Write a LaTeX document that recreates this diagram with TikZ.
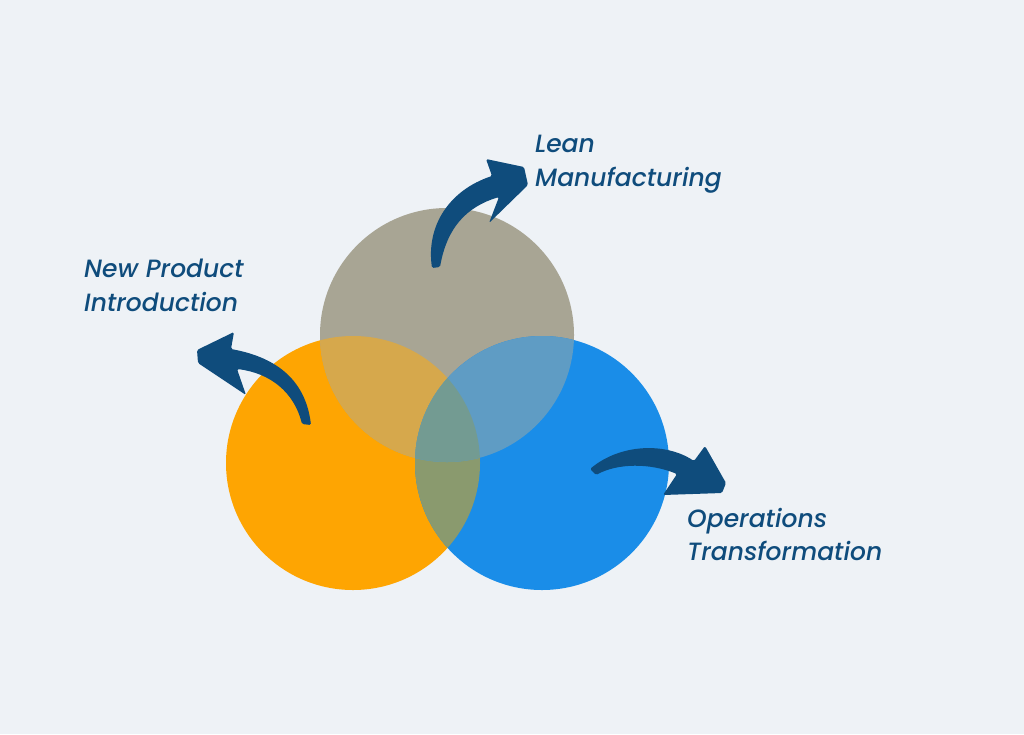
\documentclass[tikz,border=0pt]{standalone}
\usepackage{fontspec}
\setmainfont{Poppins}[UprightFont={* Medium}, ItalicFont={* Medium Italic}]
\definecolor{bgc}{HTML}{EEF2F6}
\definecolor{orng}{HTML}{FEA502}
\definecolor{gry}{HTML}{A8A594}
\definecolor{blu}{HTML}{1A8DE8}
\definecolor{og}{HTML}{D6A84C}
\definecolor{gb}{HTML}{5F9CC4}
\definecolor{ob}{HTML}{8A9A6E}
\definecolor{ogb}{HTML}{739B92}
\definecolor{navy}{HTML}{0F4C7C}
\tikzset{
  lab/.style={anchor=base west, inner sep=0pt, text=navy, font=\fontsize{25}{30}\selectfont\itshape},
  arrowshape/.style={fill=navy, rounded corners=1.5pt},
}
\begin{document}
\begin{tikzpicture}[x=1pt,y=-1pt]
\fill[bgc] (0,0) rectangle (1024,734);
\useasboundingbox (0,0) rectangle (1024,734);
% circles
\fill[orng] (353,463) circle (127pt);
\fill[gry] (447,335) circle (127pt);
\fill[blu] (542,463) circle (127pt);
\begin{scope}
  \clip (353,463) circle (127pt);
  \fill[og] (447,335) circle (127pt);
  \fill[ob] (542,463) circle (127pt);
  \clip (447,335) circle (127pt);
  \fill[ogb] (542,463) circle (127pt);
\end{scope}
\begin{scope}
  \clip (447,335) circle (127pt);
  \clip (542,463) circle (127pt);
  \fill[gb] (353,463) circle (400pt);
  \clip (353,463) circle (127pt);
  \fill[ogb] (353,463) circle (400pt);
\end{scope}
% arrows
\fill[arrowshape] (432,268) .. controls (426,225) and (450,190) .. (492,176)
  -- (486,159) -- (524,167) -- (528,185) -- (489,223) -- (499,197)
  .. controls (466,207) and (447,228) .. (440,267) -- cycle;
\fill[arrowshape] (311,425) .. controls (306,383) and (280,358) .. (231,349)
  -- (234,332) -- (197,350) -- (198,363) -- (246,395) -- (237,369)
  .. controls (270,373) and (294,392) .. (302,424) -- cycle;
\fill[arrowshape] (590,469) .. controls (620,444) and (665,442) .. (694,461)
  -- (705,446) -- (726,483) -- (722,493) -- (663,495) -- (677,474)
  .. controls (650,463) and (618,463) .. (596,475) -- cycle;
% labels
\node[lab] (lean1) at (535,152) {Lean};
\node[lab] (lean2) at (535,186) {Manufacturing};
\node[lab] (npi1) at (84,277) {New Product};
\node[lab] (npi2) at (84,311) {Introduction};
\node[lab] (ops1) at (687,527) {Operations};
\node[lab] (ops2) at (687,560) {Transformation};
\end{tikzpicture}
\end{document}
